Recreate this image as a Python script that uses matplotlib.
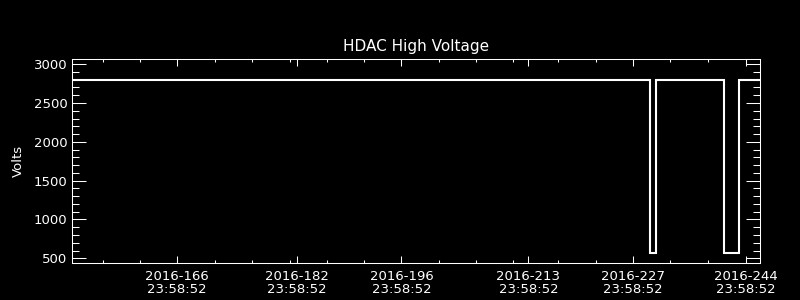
import numpy as np
import matplotlib
matplotlib.use("Agg")
import matplotlib.pyplot as plt

# HDAC high voltage, day of year 2016 vs volts (step trace)
days = [151.95, 229.24, 229.24, 230.12, 230.12, 239.15, 239.15, 241.15, 241.15, 244.05]
volts = [2800, 2800, 570, 570, 2800, 2800, 570, 570, 2800, 2800]

major_days = [166, 182, 196, 213, 227, 242.1]
major_labels = ["2016-166\n23:58:52", "2016-182\n23:58:52", "2016-196\n23:58:52",
                "2016-213\n23:58:52", "2016-227\n23:58:52", "2016-244\n23:58:52"]
minor_days = [156, 161, 171, 176, 181.05, 186, 191, 201, 206, 211, 217, 222, 232, 237]

y_major = [500, 1000, 1500, 2000, 2500, 3000]
y_minor = np.arange(500, 3001, 100)

fig = plt.figure(figsize=(8, 3), dpi=100, facecolor="black")
ax = fig.add_axes([0.0904, 0.1217, 0.86, 0.681], facecolor="black")

ax.plot(days, volts, color="white", lw=1.5, solid_joinstyle="miter")

ax.set_xlim(151.95, 244.05)
ax.set_ylim(433, 3064)

ax.set_xticks(major_days)
ax.set_xticklabels(major_labels, linespacing=1.05)
ax.set_xticks(minor_days, minor=True)
ax.set_yticks(y_major)
ax.set_yticks(y_minor, minor=True)

ax.tick_params(axis="x", which="major", direction="in", length=4.7, width=0.75,
               top=True, bottom=True, colors="white", labelsize=9.5, pad=4.5)
ax.tick_params(axis="x", which="minor", direction="in", length=2.4, width=0.75,
               top=True, bottom=True, colors="white")
ax.tick_params(axis="y", which="major", direction="in", length=10, width=0.75,
               left=True, right=True, colors="white", labelsize=9.5, pad=3.6)
ax.tick_params(axis="y", which="minor", direction="in", length=5, width=0.75,
               left=True, right=True, colors="white")

for s in ax.spines.values():
    s.set_color("white")
    s.set_linewidth(0.75)

ax.set_title("HDAC High Voltage", color="white", fontsize=11, pad=6)
ax.set_ylabel("Volts", color="white", fontsize=9.5, labelpad=6)

fig.savefig("out.png", dpi=100, facecolor="black")
